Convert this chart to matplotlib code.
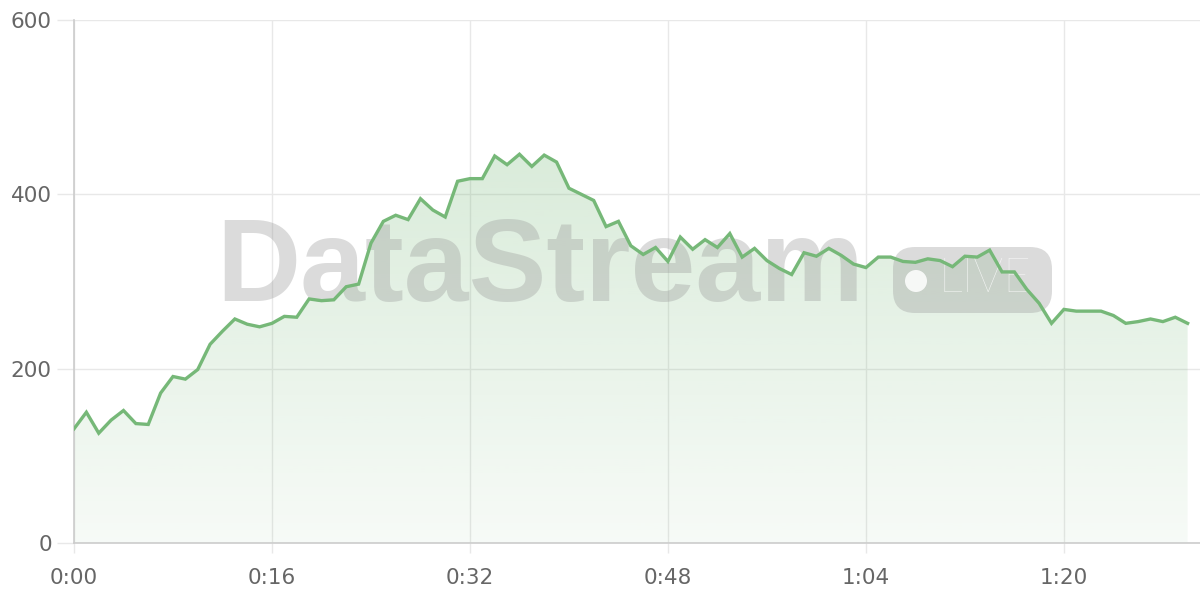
import matplotlib
matplotlib.use('Agg')
import matplotlib.pyplot as plt
import numpy as np
from matplotlib.patches import FancyBboxPatch, Circle

plt.rcParams['font.family'] = ['Liberation Sans', 'DejaVu Sans']

# one sample per minute, 0:00 .. 1:30
MINUTES = list(range(91))
VALUES = [
    131, 150, 126, 141, 152, 137, 136, 172, 191, 188,
    199, 228, 243, 257, 251, 248, 252, 260, 259, 280,
    278, 279, 294, 297, 344, 369, 376, 371, 395, 382,
    374, 415, 418, 418, 444, 434, 446, 432, 445, 437,
    407, 400, 393, 363, 369, 341, 331, 339, 323, 351,
    337, 348, 339, 355, 328, 338, 324, 315, 308, 333,
    329, 338, 330, 320, 316, 328, 328, 323, 322, 326,
    324, 317, 329, 328, 336, 311, 311, 291, 275, 252,
    268, 266, 266, 266, 261, 252, 254, 257, 254, 259,
    252,
]
X_TICKS = [0, 16, 32, 48, 64, 80]
X_LABELS = ['0:00', '0:16', '0:32', '0:48', '1:04', '1:20']
Y_TICKS = [0, 200, 400, 600]

LINE_COLOR = '#76b878'

fig = plt.figure(figsize=(12, 6), dpi=100)
ax = fig.add_axes([74 / 1200, 57 / 600, 1126 / 1200, 523 / 600])

x = np.array(MINUTES)
y = np.array(VALUES)

# gradient fill under the line
poly = ax.fill_between(x, y, 0, color='none', lw=0)
grad = np.zeros((200, 1, 4))
grad[..., 0:3] = matplotlib.colors.to_rgb(LINE_COLOR)
grad[..., 3] = np.linspace(0.28, 0.06, 200)[:, None]
img = ax.imshow(grad, extent=[0, 91, 0, 460], origin='upper', aspect='auto', zorder=1)
img.set_clip_path(poly.get_paths()[0], transform=ax.transData)

ax.plot(x, y, color=LINE_COLOR, lw=2.4, zorder=10, solid_joinstyle='miter')

ax.set_xlim(0, 91)
ax.set_ylim(0, 600)
ax.set_xticks(X_TICKS)
ax.set_xticklabels(X_LABELS)
ax.set_yticks(Y_TICKS)
ax.grid(True, color='#e8e8e8', lw=1, zorder=0)
ax.set_axisbelow(True)
for s in ['top', 'right']:
    ax.spines[s].set_visible(False)
for s in ['left', 'bottom']:
    ax.spines[s].set_color('#cccccc')
    ax.spines[s].set_linewidth(1.2)
for lab in ax.get_xticklabels() + ax.get_yticklabels():
    lab.set_family(['DejaVu Sans'])
ax.tick_params(axis='both', colors='#e8e8e8', length=12, width=1,
               labelcolor='#666666', labelsize=15.5)
ax.tick_params(axis='y', pad=4)
ax.tick_params(axis='x', length=7, pad=11)

# watermark (pixel coordinates, under the line)
wm = '#999999'
ax.text(540, 600 - 271, 'DataStream', transform=None, fontsize=84, fontweight='bold',
        color=wm, alpha=0.35, ha='center', va='center', zorder=5)
ax.add_patch(FancyBboxPatch((893, 600 - 313), 159, 66,
                            boxstyle='round,pad=0,rounding_size=22',
                            transform=None, fc=wm, ec='none', alpha=0.35,
                            zorder=5, clip_on=False))
ax.add_patch(Circle((916, 600 - 281), 11, transform=None, fc='white', ec='none',
                    alpha=0.85, zorder=6, clip_on=False))
ax.text(985, 600 - 280, 'LIVE', transform=None, fontsize=34, color='white',
        alpha=0.85, ha='center', va='center', zorder=6, family=['Lato', 'DejaVu Sans'],
        fontweight='light')

fig.savefig('out.png', dpi=100)
